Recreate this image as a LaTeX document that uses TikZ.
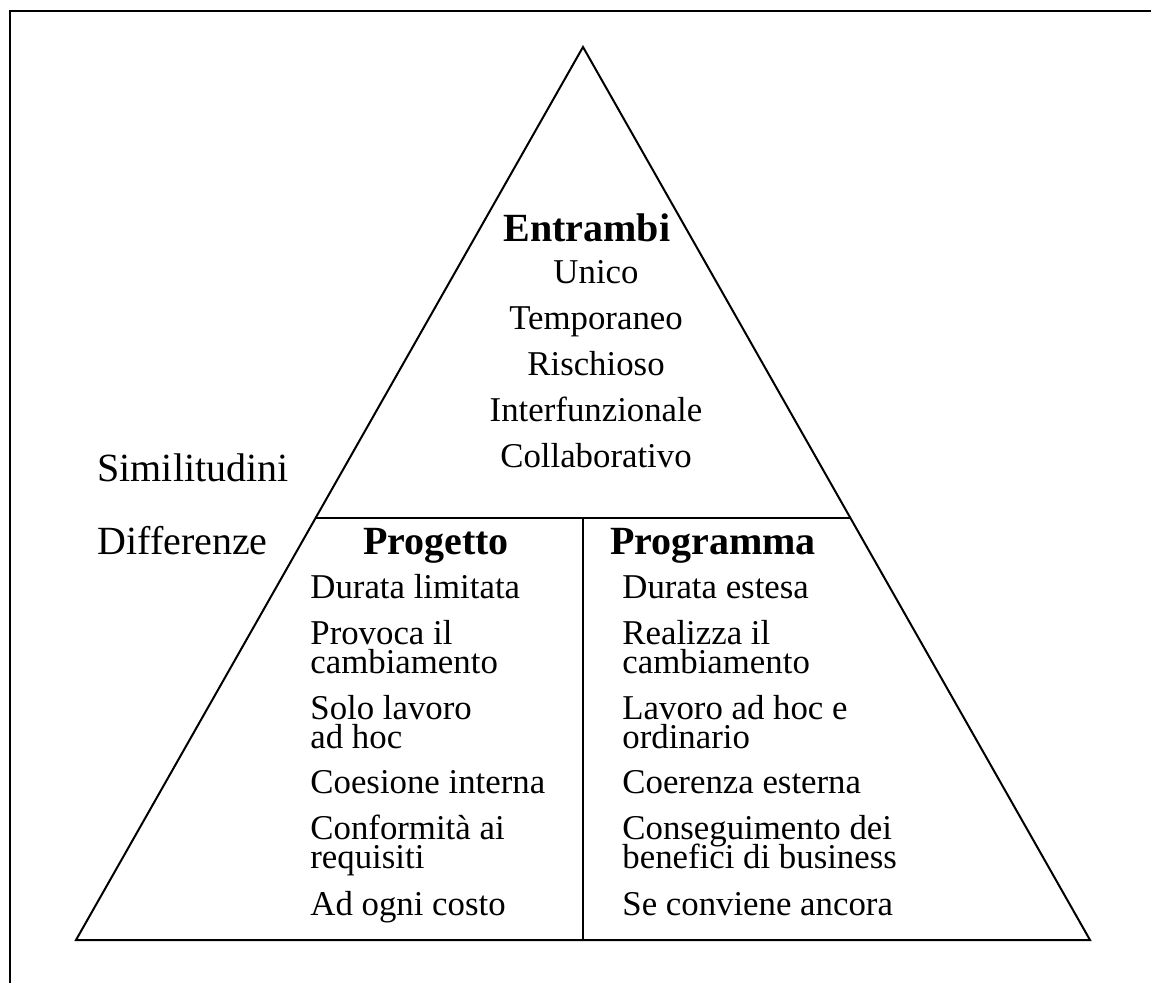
\documentclass[tikz,border=0pt]{standalone}
\usepackage{fontspec}
\setmainfont{Liberation Serif}
\usetikzlibrary{positioning}

\tikzset{
    entry/.style={anchor=base west, inner sep=0pt, align=left,
        font=\fontsize{17.4}{14.5}\selectfont},
    common/.style={anchor=base, inner sep=0pt,
        font=\fontsize{17.4}{20}\selectfont},
    heading/.style={anchor=base, inner sep=0pt,
        font=\fontsize{20}{24}\selectfont\bfseries},
    sidelabel/.style={anchor=base west, inner sep=0pt,
        font=\fontsize{20}{24}\selectfont}
}

\begin{document}
\begin{tikzpicture}[x=0.5pt,y=-0.5pt]
    \lineskiplimit=-100pt
    \useasboundingbox (0,0) rectangle (1151,983);
    % frame
    \draw[line width=1.1pt] (10,983) -- (10,11) -- (1151,11);
    % pyramid
    \coordinate (apex) at (583,47);
    \coordinate (bl) at (76,940);
    \coordinate (br) at (1090,940);
    \draw[line width=1pt] (apex) -- (br) -- (bl) -- cycle;
    \path (apex) -- (bl) coordinate[pos=0.5274] (sl);
    \path (apex) -- (br) coordinate[pos=0.5274] (sr);
    \draw[line width=0.8pt] (sl) -- (sr);
    \draw[line width=0.8pt] (sl -| apex) -- (bl -| apex);

    \node[sidelabel] (simil) at (97,482) {Similitudini};
    \node[sidelabel] (diff) at (97,555) {Differenze};

    \node[heading] (entrambi) at (587,242) {Entrambi};
    \foreach \w [count=\i] in {Unico,Temporaneo,Rischioso,Interfunzionale,Collaborativo}
        \node[common] (both-\i) at (596,238+46*\i) {\w};

    \node[heading] (progetto) at (436,555) {Progetto};
    \node[heading] (programma) at (713,555) {Programma};
    % y = baseline of the last line
    \foreach \y/\a/\b [count=\i] in {
        598/{Durata limitata}/{Durata estesa},
        674/{Provoca il\\cambiamento}/{Realizza il\\cambiamento},
        748/{Solo lavoro\\ad hoc}/{Lavoro ad hoc e\\ordinario},
        793/{Coesione interna}/{Coerenza esterna},
        868/{Conformità ai\\requisiti}/{Conseguimento dei\\benefici di business},
        915/{Ad ogni costo}/{Se conviene ancora}}
    {
        \node[entry] (pj-\i) at (310,\y) {\a};
        \node[entry] (pg-\i) at (622,\y) {\b};
    }
\end{tikzpicture}
\end{document}
